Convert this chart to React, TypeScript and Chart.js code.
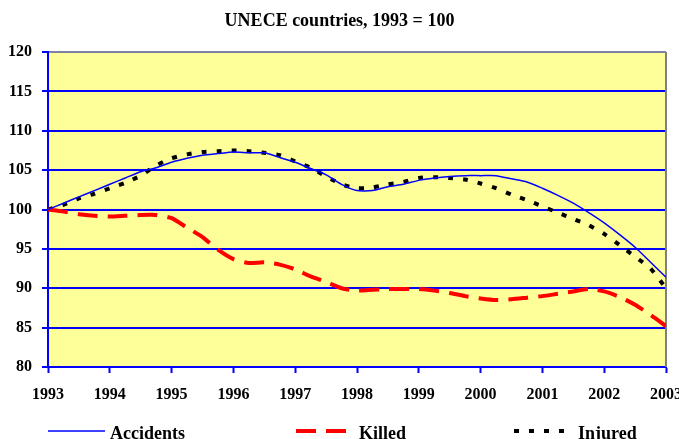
import React, { useEffect, useRef } from 'react';
import { Chart, registerables } from 'chart.js';

Chart.register(...registerables);

const titleText = 'UNECE countries, 1993 = 100';

const periods = [
  1993, 1993.25, 1993.5, 1993.75, 1994, 1994.25, 1994.5, 1994.75,
  1995, 1995.25, 1995.5, 1995.75, 1996, 1996.25, 1996.5, 1996.75,
  1997, 1997.25, 1997.5, 1997.75, 1998, 1998.25, 1998.5, 1998.75,
  1999, 1999.25, 1999.5, 1999.75, 2000, 2000.25, 2000.5, 2000.75,
  2001, 2001.25, 2001.5, 2001.75, 2002, 2002.25, 2002.5, 2002.75, 2003,
];

const yearTicks = [1993, 1994, 1995, 1996, 1997, 1998, 1999, 2000, 2001, 2002, 2003];
const valueTicks = [80, 85, 90, 95, 100, 105, 110, 115, 120];

const accidents = [
  100.0, 100.8, 101.6, 102.4, 103.2, 104.0, 104.8, 105.3,
  106.0, 106.5, 106.9, 107.1, 107.3, 107.2, 107.2, 106.6,
  106.0, 105.2, 104.4, 103.2, 102.4, 102.4, 102.9, 103.2,
  103.7, 104.0, 104.2, 104.3, 104.3, 104.3, 103.9, 103.5,
  102.7, 101.8, 100.8, 99.6, 98.3, 96.8, 95.2, 93.3, 91.4,
];

const killed = [
  100.0, 99.75, 99.4, 99.2, 99.1, 99.2, 99.3, 99.3,
  98.9, 97.7, 96.5, 94.9, 93.7, 93.2, 93.3, 93.0,
  92.4, 91.5, 90.8, 90.0, 89.7, 89.8, 89.9, 89.9,
  89.9, 89.7, 89.4, 89.0, 88.7, 88.5, 88.6, 88.8,
  89.0, 89.3, 89.6, 89.9, 89.6, 88.9, 87.9, 86.6, 85.2,
];

const injured = [
  100.0, 100.6, 101.4, 102.0, 102.7, 103.4, 104.3, 105.6,
  106.5, 107.0, 107.3, 107.4, 107.5, 107.4, 107.2, 106.9,
  106.1, 105.3, 104.2, 103.2, 102.7, 102.8, 103.2, 103.5,
  104.0, 104.1, 104.0, 103.8, 103.3, 102.7, 101.9, 101.2,
  100.4, 99.6, 98.8, 98.0, 96.9, 95.5, 94.0, 92.5, 90.0,
];

const seriesNames = ['Accidents', 'Killed', 'Injured'];
const FONT = "'Liberation Serif', 'Times New Roman', serif";
const CANVAS_W = 694;
const CANVAS_H = 439;
const VIEW_W = 679;

export default function App() {
  const ref = useRef<HTMLCanvasElement>(null);

  useEffect(() => {
    document.body.style.margin = '0';
    document.body.style.overflow = 'hidden';
    const canvas = ref.current;
    if (!canvas) return;

    const bgPlugin = {
      id: 'bgPlugin',
      beforeDraw(chart: any) {
        const { ctx, chartArea: a } = chart;
        ctx.save();
        ctx.fillStyle = '#FFFF99';
        ctx.fillRect(a.left, a.top, a.right - a.left, a.bottom - a.top);
        ctx.restore();
      },
      beforeDatasetsDraw(chart: any) {
        const { ctx, chartArea: a } = chart;
        ctx.save();
        ctx.strokeStyle = '#808080';
        ctx.lineWidth = 2;
        ctx.beginPath();
        ctx.moveTo(a.right, a.top);
        ctx.lineTo(a.right, a.bottom);
        ctx.stroke();
        ctx.restore();
      },
    };

    const titlePlugin = {
      id: 'customTitle',
      afterDraw(chart: any) {
        const { ctx } = chart;
        ctx.save();
        ctx.fillStyle = '#000';
        ctx.font = `bold 18px ${FONT}`;
        ctx.textAlign = 'center';
        ctx.textBaseline = 'alphabetic';
        ctx.fillText(titleText, VIEW_W / 2, 26);
        ctx.restore();
      },
    };

    const legendPlugin = {
      id: 'customLegend',
      afterDraw(chart: any) {
        const { ctx } = chart;
        const ds = chart.data.datasets;
        const items = [
          { x: 48, w: 57, tx: 110 },
          { x: 296, w: 50, tx: 359 },
          { x: 514, w: 57, tx: 578 },
        ];
        const ly = 431;
        ctx.save();
        items.forEach((it, i) => {
          const d = ds[i];
          ctx.strokeStyle = d.borderColor;
          ctx.lineWidth = d.borderWidth;
          ctx.setLineDash(d.borderDash || []);
          ctx.lineCap = 'butt';
          ctx.beginPath();
          ctx.moveTo(it.x, ly);
          ctx.lineTo(it.x + it.w, ly);
          ctx.stroke();
          ctx.setLineDash([]);
          ctx.fillStyle = '#000';
          ctx.font = `bold 18px ${FONT}`;
          ctx.textBaseline = 'alphabetic';
          ctx.textAlign = 'left';
          ctx.fillText(d.label, it.tx, 439);
        });
        ctx.restore();
      },
    };

    const toPoints = (vals: number[]) => vals.map((v, i) => ({ x: periods[i], y: v }));

    const chart = new Chart(canvas, {
      type: 'line',
      data: {
        datasets: [
          {
            label: seriesNames[0],
            data: toPoints(accidents),
            borderColor: '#0000FF',
            borderWidth: 1.5,
            pointRadius: 0,
            tension: 0.2,
            fill: false,
          },
          {
            label: seriesNames[1],
            data: toPoints(killed),
            borderColor: '#FF0000',
            borderWidth: 4,
            borderDash: [20, 10],
            pointRadius: 0,
            tension: 0.2,
            fill: false,
          },
          {
            label: seriesNames[2],
            data: toPoints(injured),
            borderColor: '#000000',
            borderWidth: 4,
            borderDash: [5, 10],
            pointRadius: 0,
            tension: 0.2,
            fill: false,
          },
        ],
      },
      options: {
        animation: false,
        responsive: false,
        maintainAspectRatio: false,
        layout: { padding: { left: 0, right: 0, top: 52, bottom: 32 } },
        plugins: {
          legend: { display: false },
          tooltip: { enabled: false },
          title: { display: false },
        },
        scales: {
          x: {
            type: 'linear',
            min: yearTicks[0],
            max: yearTicks[yearTicks.length - 1],
            afterBuildTicks(scale: any) {
              scale.ticks = yearTicks.map((v) => ({ value: v }));
            },
            afterFit(scale: any) {
              scale.height = 40;
            },
            grid: {
              drawOnChartArea: false,
              drawTicks: true,
              tickLength: 6,
              tickColor: '#0000FF',
              tickWidth: 2,
            },
            border: { color: '#0000FF', width: 2 },
            ticks: {
              color: '#000',
              padding: 12,
              maxRotation: 0,
              autoSkip: false,
              font: { family: FONT, size: 16, weight: 'bold' },
              callback: (v: any) => String(v),
            },
          },
          y: {
            min: valueTicks[0],
            max: valueTicks[valueTicks.length - 1],
            afterBuildTicks(scale: any) {
              scale.ticks = valueTicks.map((v) => ({ value: v }));
            },
            afterFit(scale: any) {
              scale.width = 48;
            },
            grid: {
              color: (c: any) => (c.tick && c.tick.value === 120 ? '#8080A0' : '#0000FF'),
              lineWidth: 2,
              tickLength: 6,
              tickColor: '#0000FF',
            },
            border: { color: '#0000FF', width: 2 },
            ticks: {
              color: '#000',
              padding: 10,
              font: { family: FONT, size: 16, weight: 'bold' },
            },
          },
        },
      },
      plugins: [bgPlugin, titlePlugin, legendPlugin],
    } as any);

    return () => chart.destroy();
  }, []);

  return (
    <div style={{ position: 'absolute', left: 0, top: 0, width: CANVAS_W, height: CANVAS_H, overflow: 'hidden' }}>
      <canvas ref={ref} width={CANVAS_W} height={CANVAS_H} style={{ width: CANVAS_W, height: CANVAS_H, display: 'block' }} />
    </div>
  );
}
